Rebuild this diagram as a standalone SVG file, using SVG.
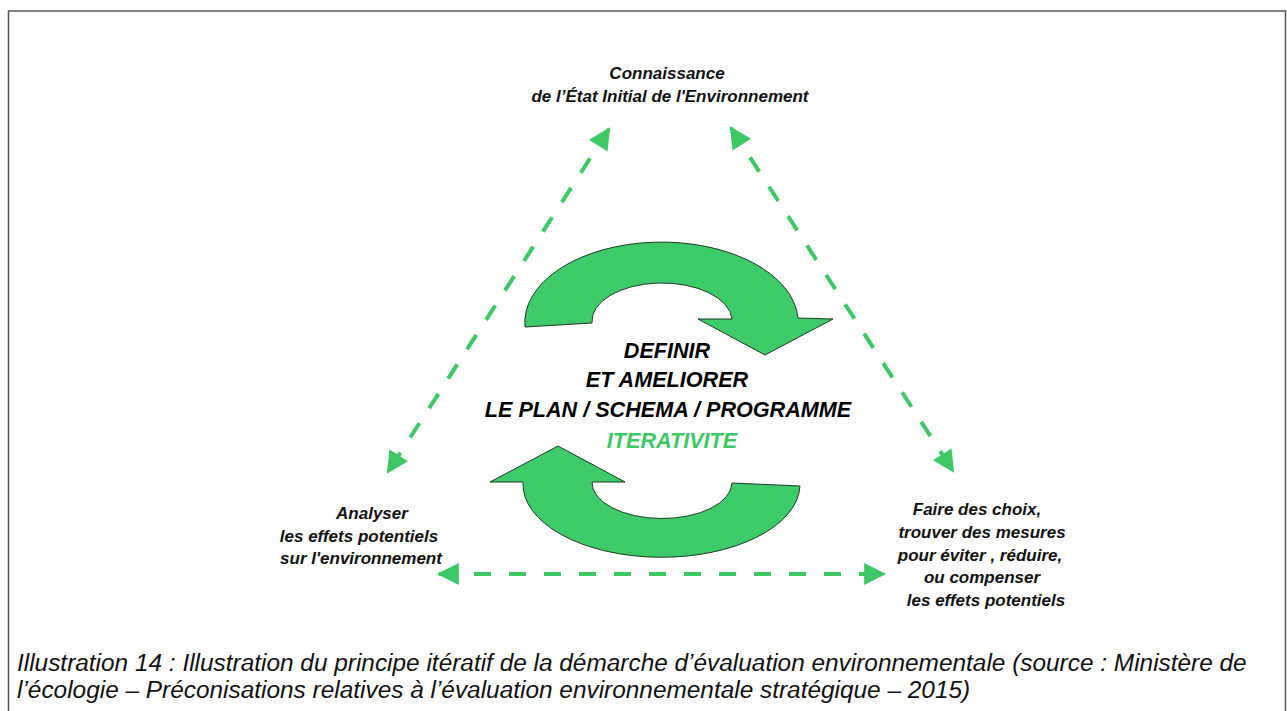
<svg xmlns="http://www.w3.org/2000/svg" width="1287" height="711" viewBox="0 0 1287 711">
<style>
.lbl{font-family:"Liberation Sans",Arial,sans-serif;font-size:17px;font-weight:bold;font-style:italic;fill:#111;text-anchor:middle}
.ctr{font-family:"Liberation Sans",Arial,sans-serif;font-size:21.6px;font-weight:bold;font-style:italic;fill:#000;text-anchor:middle}
.cap{font-family:"Liberation Sans",Arial,sans-serif;font-size:24.4px;font-style:italic;fill:#111}
.dash{stroke:#3cc864;stroke-width:4;fill:none;stroke-dasharray:17 18}
.big{fill:#3ccb68;stroke:#1e3a22;stroke-width:1}
</style>
<defs>
<marker id="ah" viewBox="0 0 10 10" refX="9" refY="5" markerWidth="6" markerHeight="5.5" markerUnits="strokeWidth" orient="auto-start-reverse">
<path d="M0 0 L10 5 L0 10 Z" fill="#3cc864"/>
</marker>
</defs>
<rect width="1287" height="711" fill="#fff"/>
<g id="frame" stroke="#555" stroke-width="1.5" fill="none">
<path d="M8.5 711 V11 H1285.5 V711"/>
</g>
<g id="connectors">
<line class="dash" x1="609" y1="129" x2="388" y2="472" marker-start="url(#ah)" marker-end="url(#ah)"/>
<line class="dash" x1="731" y1="128" x2="953" y2="471" marker-start="url(#ah)" marker-end="url(#ah)"/>
<line class="dash" x1="439" y1="574" x2="884" y2="574" marker-start="url(#ah)" marker-end="url(#ah)"/>
</g>
<g id="cycle-top">
<path class="big" d="M525 327 A136 80 0 0 1 798 318 L833 319 L765 355 L698 319 L732 319 A70 38 0 0 0 592 323 Z"/>
</g>
<g id="cycle-bottom">
<path class="big" d="M523 482 A138 73 0 0 0 800 486 L732 483 A70 36 0 0 1 592 482 L625 482 L558 446 L490 482 Z"/>
</g>
<g id="node-top">
<text class="lbl" x="667" y="79">Connaissance</text>
<text class="lbl" x="670" y="102">de l’État  Initial de l'Environnement</text>
</g>
<g id="node-left">
<text class="lbl" x="372" y="519">Analyser</text>
<text class="lbl" x="359" y="542">les effets potentiels</text>
<text class="lbl" x="361" y="564">sur l'environnement</text>
</g>
<g id="node-right">
<text class="lbl" x="977" y="515">Faire des choix,</text>
<text class="lbl" x="982" y="538">trouver des mesures</text>
<text class="lbl" x="980" y="561">pour  éviter , réduire,</text>
<text class="lbl" x="982" y="583">ou compenser</text>
<text class="lbl" x="986" y="606">les effets potentiels</text>
</g>
<g id="node-center">
<text class="ctr" x="667" y="358">DEFINIR</text>
<text class="ctr" x="667" y="387">ET AMELIORER</text>
<text class="ctr" x="668" y="417">LE PLAN / SCHEMA / PROGRAMME</text>
<text class="ctr" x="672" y="448" style="fill:#3cc864">ITERATIVITE</text>
</g>
<g id="caption">
<text class="cap" x="17" y="671">Illustration 14 : Illustration du principe itératif de la démarche d’évaluation environnementale (source : Ministère de</text>
<text class="cap" x="17" y="698">l’écologie – Préconisations relatives à l’évaluation environnementale stratégique – 2015)</text>
</g>
</svg>
